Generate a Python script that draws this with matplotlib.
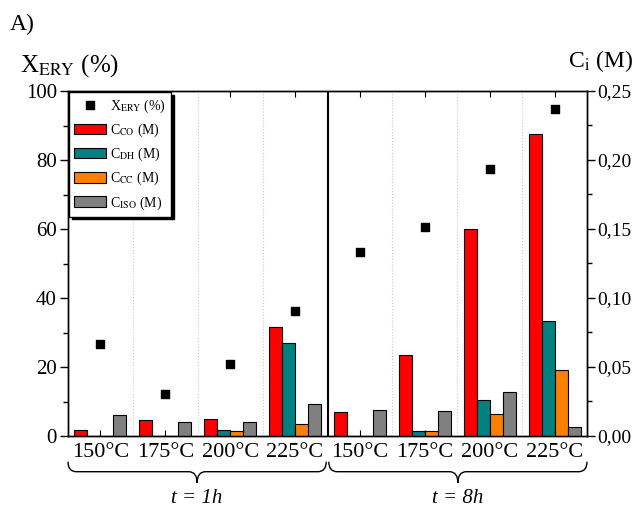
import numpy as np
import matplotlib
matplotlib.use('Agg')
import matplotlib.pyplot as plt
from matplotlib.path import Path
from matplotlib.patches import PathPatch
from matplotlib.transforms import blended_transform_factory
from matplotlib.ticker import MultipleLocator, FuncFormatter

# ---- data ----
temps = ['150°C', '175°C', '200°C', '225°C', '150°C', '175°C', '200°C', '225°C']
time_labels = ['t = 1h', 't = 8h']
x_ery = [26.6, 12.2, 20.8, 36.2, 53.2, 60.5, 77.4, 94.7]          # %
c_co = [0.0045, 0.0118, 0.0125, 0.0788, 0.0175, 0.0585, 0.1500, 0.2185]  # M
c_dh = [0.0, 0.0003, 0.0040, 0.0675, 0.0, 0.0037, 0.0258, 0.0835]
c_cc = [0.0, 0.0002, 0.0033, 0.0085, 0.0, 0.0033, 0.0158, 0.0480]
c_iso = [0.0150, 0.0105, 0.0105, 0.0235, 0.0188, 0.0180, 0.0318, 0.0068]

plt.rcParams['font.family'] = ['Liberation Serif', 'DejaVu Serif']
plt.rcParams['mathtext.fontset'] = 'stix'

fig = plt.figure(figsize=(6.35, 5.07), dpi=100)
ax = fig.add_axes([68 / 635, 1 - 436 / 507, (587 - 68) / 635, (436 - 91) / 507])
ax2 = ax.twinx()
ax.set_zorder(ax2.get_zorder() + 1)
ax.patch.set_visible(False)

x = np.arange(len(temps))
w = 0.2
series = [
    (c_co, '#FF0000', r'C$_{\mathrm{CO}}$ (M)'),
    (c_dh, '#008080', r'C$_{\mathrm{DH}}$ (M)'),
    (c_cc, '#FF8000', r'C$_{\mathrm{CC}}$ (M)'),
    (c_iso, '#808080', r'C$_{\mathrm{ISO}}$ (M)'),
]
bar_handles = []
for i, (vals, col, lab) in enumerate(series):
    b = ax2.bar(x + (i - 1.5) * w, vals, w, color=col, edgecolor='black',
                linewidth=0.8, label=lab, zorder=3)
    bar_handles.append(b)

sc = ax.scatter(x, x_ery, marker='s', s=40, color='black',
                label=r'X$_{\mathrm{ERY}}$ (%)', zorder=5)

# separators
n = len(temps)
half = n // 2
for b in np.arange(0.5, n - 0.5, 1.0):
    if abs(b - (half - 0.5)) < 1e-9:
        ax.axvline(b, color='black', lw=1.5, zorder=4)
    else:
        ax.axvline(b, color='#c8c8c8', lw=0.8, ls=':', zorder=1)

ax.set_xlim(-0.5, n - 0.5)
ax.set_ylim(0, 100)
ax2.set_ylim(0, 0.25)

ax.set_xticks(x)
ax.set_xticklabels(temps, fontsize=16)
ax.tick_params(axis='x', which='major', direction='in', top=True, length=4, pad=5)
ax.yaxis.set_major_locator(MultipleLocator(20))
ax.yaxis.set_minor_locator(MultipleLocator(10))
ax.tick_params(axis='y', which='major', direction='out', length=6, width=1, labelsize=15, pad=2)
ax.tick_params(axis='y', which='minor', direction='out', length=3.5, width=1)

ax2.yaxis.set_major_locator(MultipleLocator(0.05))
ax2.yaxis.set_minor_locator(MultipleLocator(0.025))
ax2.yaxis.set_major_formatter(FuncFormatter(lambda v, p: f'{v:.2f}'.replace('.', ',')))
ax2.tick_params(axis='y', which='major', direction='out', length=6, width=1, labelsize=14, pad=1.5)
ax2.tick_params(axis='y', which='minor', direction='out', length=3.5, width=1)

for a in (ax, ax2):
    for s in a.spines.values():
        s.set_linewidth(1.0)

# legend
handles = [sc] + bar_handles
labels = [h.get_label() for h in handles]
leg = ax.legend(handles, labels, loc='upper left', bbox_to_anchor=(0.0, 1.0),
                borderaxespad=0.1, fontsize=10, frameon=True, fancybox=False,
                edgecolor='black', framealpha=1, handlelength=2.3, handleheight=0.8,
                handletextpad=0.3, labelspacing=0.5, borderpad=0.35,
                shadow={'color': 'black', 'alpha': 1})
leg.get_frame().set_linewidth(1.0)

# axis titles
fig.text(10 / 635, 1 - 30 / 507, 'A)', fontsize=17, va='baseline')
fig.text(20 / 635, 1 - 72 / 507, r'X$_{\mathrm{ERY}}$ (%)', fontsize=18, va='baseline')
fig.text(633 / 635, 1 - 67 / 507, r'C$_{\mathrm{i}}$ (M)', fontsize=17, va='baseline', ha='right')

# braces
tr = blended_transform_factory(ax.transData, ax.transAxes)


def brace(x0, x1, label):
    y_top, y_mid, y_bot = -0.0745, -0.1035, -0.136
    r = 0.13
    xc = 0.5 * (x0 + x1)
    verts = [(x0, y_top), (x0, y_mid), (x0 + r, y_mid),
             (xc - r, y_mid),
             (xc, y_mid), (xc, y_bot),
             (xc, y_mid), (xc + r, y_mid),
             (x1 - r, y_mid),
             (x1, y_mid), (x1, y_top)]
    codes = [Path.MOVETO, Path.CURVE3, Path.CURVE3,
             Path.LINETO,
             Path.CURVE3, Path.CURVE3,
             Path.CURVE3, Path.CURVE3,
             Path.LINETO,
             Path.CURVE3, Path.CURVE3]
    p = PathPatch(Path(verts, codes), transform=tr, fill=False, lw=1.0,
                  edgecolor='black', clip_on=False)
    ax.add_patch(p)
    ax.text(xc, -0.182, label, transform=tr, ha='center', va='center',
            fontsize=15, style='italic')


brace(-0.5, half - 0.52, time_labels[0])
brace(half - 0.48, n - 0.5, time_labels[1])

fig.savefig('out.png', dpi=100)
